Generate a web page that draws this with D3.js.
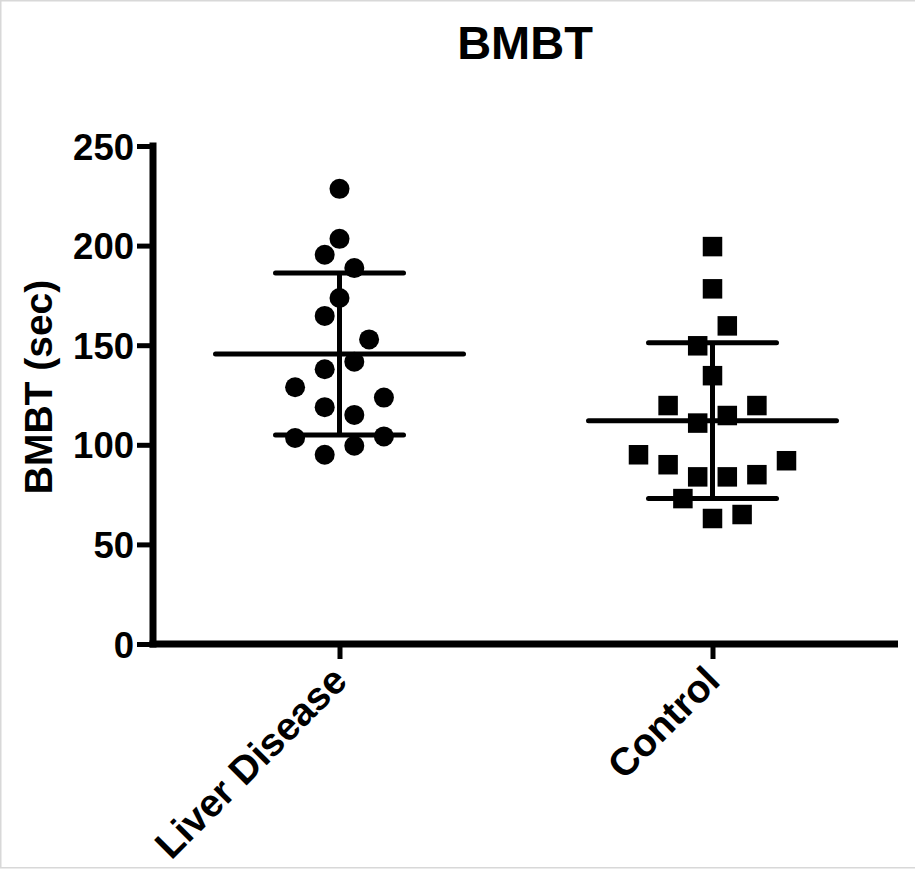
<!DOCTYPE html>
<html>
<head>
<meta charset="utf-8">
<script src="https://cdn.jsdelivr.net/npm/d3@7"></script>
<style>
  html, body { margin: 0; padding: 0; background: #fff; }
  svg { display: block; }
  text { font-family: "Liberation Sans", Arial, Helvetica, sans-serif; font-weight: bold; fill: #000; }
</style>
</head>
<body>
<svg id="chart" width="915" height="870"></svg>
<script>
// ---- data ----
const title = "BMBT";
const yLabel = "BMBT (sec)";
const categories = ["Liver Disease", "Control"];
const yTicks = [0, 50, 100, 150, 200, 250];

// Liver Disease values (sec) and their scatter column slot
const liverValues = [228.5, 203.4, 195.4, 188.7, 173.7, 164.7, 152.9, 141.7, 137.9,
                     128.9, 123.7, 118.9, 115.0, 103.4, 104.2, 99.5, 95.0];
const liverSlots  = [0, 0, -1, 1, 0, -1, 2, 1, -1, -3, 3, -1, 1, -3, 3, 1, -1];

// Control values (sec) and their scatter column slot
const controlValues = [199.5, 178.3, 159.7, 149.7, 134.7, 119.7, 119.7, 114.7, 110.9,
                       95.0, 92.0, 90.0, 85.0, 83.9, 83.9, 73.0, 65.0, 63.0];
const controlSlots  = [0, 0, 1, -1, 0, -3, 3, 1, -1, -5, 5, -3, 3, -1, 1, -2, 2, 0];

// ---- layout ----
const svg = d3.select("#chart");
const W = 915, H = 870;
const pLeft = 153, pRight = 899, pTop = 146, pBottom = 644;
const slotStep = 14.8;
const axisW = 7, tickW = 5, barW = 5;

// frame border
svg.append("rect")
  .attr("x", 0.75).attr("y", 0.75)
  .attr("width", W + 10).attr("height", 867)
  .attr("fill", "none").attr("stroke", "#d8d8d8").attr("stroke-width", 1.5);

const x = d3.scalePoint().domain(categories).range([pLeft, pRight]).padding(0.5);
const y = d3.scaleLinear().domain([0, 250]).range([pBottom, pTop]);

const groups = [
  { name: categories[0], values: liverValues, slots: liverSlots, shape: "circle" },
  { name: categories[1], values: controlValues, slots: controlSlots, shape: "square" }
];

// ---- title ----
svg.append("text")
  .attr("x", 525).attr("y", 59)
  .attr("text-anchor", "middle")
  .attr("font-size", 47)
  .text(title);

// ---- y axis ----
const yAxis = d3.axisLeft(y).tickValues(yTicks).tickSize(16).tickPadding(3).tickSizeOuter(0);
const gy = svg.append("g").attr("transform", `translate(${pLeft},0)`).call(yAxis);
gy.select(".domain").remove();
gy.selectAll(".tick line").attr("stroke", "#000").attr("stroke-width", tickW);
gy.selectAll(".tick text").attr("font-size", 36.5).attr("font-family", "Liberation Sans, Arial, sans-serif")
  .attr("font-weight", "bold").attr("fill", "#000").attr("dy", "0.36em");

// ---- x axis ----
const xAxis = d3.axisBottom(x).tickSize(15).tickSizeOuter(0);
const gx = svg.append("g").attr("transform", `translate(0,${pBottom})`).call(xAxis);
gx.select(".domain").remove();
gx.selectAll(".tick line").attr("stroke", "#000").attr("stroke-width", tickW);
gx.selectAll(".tick text")
  .attr("font-size", 39).attr("font-family", "Liberation Sans, Arial, sans-serif")
  .attr("font-weight", "bold").attr("fill", "#000")
  .attr("text-anchor", "end")
  .attr("y", 0).attr("dy", 0)
  .attr("transform", "translate(9,39) rotate(-45)");

// axis lines
svg.append("line")
  .attr("x1", pLeft).attr("x2", pLeft)
  .attr("y1", pTop - 3.5).attr("y2", pBottom + axisW / 2)
  .attr("stroke", "#000").attr("stroke-width", axisW);
svg.append("line")
  .attr("x1", pLeft - axisW / 2).attr("x2", 898)
  .attr("y1", pBottom).attr("y2", pBottom)
  .attr("stroke", "#000").attr("stroke-width", axisW);

// ---- y label ----
svg.append("text")
  .attr("transform", `translate(52,${(pTop + pBottom) / 2 - 8}) rotate(-90)`)
  .attr("text-anchor", "middle")
  .attr("font-size", 39)
  .text(yLabel);

// ---- error bars (mean ± SD) and points ----
const meanHalf = 124, sdHalf = 64;
groups.forEach(g => {
  const cx = x(g.name);
  const m = d3.mean(g.values), sd = d3.deviation(g.values);
  const eg = svg.append("g").attr("stroke", "#000").attr("stroke-width", barW).attr("stroke-linecap", "round");
  eg.append("line").attr("x1", cx).attr("x2", cx).attr("y1", y(m + sd)).attr("y2", y(m - sd)).attr("stroke-linecap", "butt");
  eg.append("line").attr("x1", cx - sdHalf).attr("x2", cx + sdHalf).attr("y1", y(m + sd)).attr("y2", y(m + sd));
  eg.append("line").attr("x1", cx - sdHalf).attr("x2", cx + sdHalf).attr("y1", y(m - sd)).attr("y2", y(m - sd));
  eg.append("line").attr("x1", cx - meanHalf).attr("x2", cx + meanHalf).attr("y1", y(m)).attr("y2", y(m));

  const pts = g.values.map((v, i) => ({ v, s: g.slots[i] }));
  if (g.shape === "circle") {
    svg.append("g").selectAll("circle").data(pts).join("circle")
      .attr("cx", d => cx + d.s * slotStep)
      .attr("cy", d => y(d.v))
      .attr("r", 10)
      .attr("fill", "#000");
  } else {
    const side = 19.5;
    svg.append("g").selectAll("rect").data(pts).join("rect")
      .attr("x", d => cx + d.s * slotStep - side / 2)
      .attr("y", d => y(d.v) - side / 2)
      .attr("width", side).attr("height", side)
      .attr("fill", "#000");
  }
});
</script>
</body>
</html>
